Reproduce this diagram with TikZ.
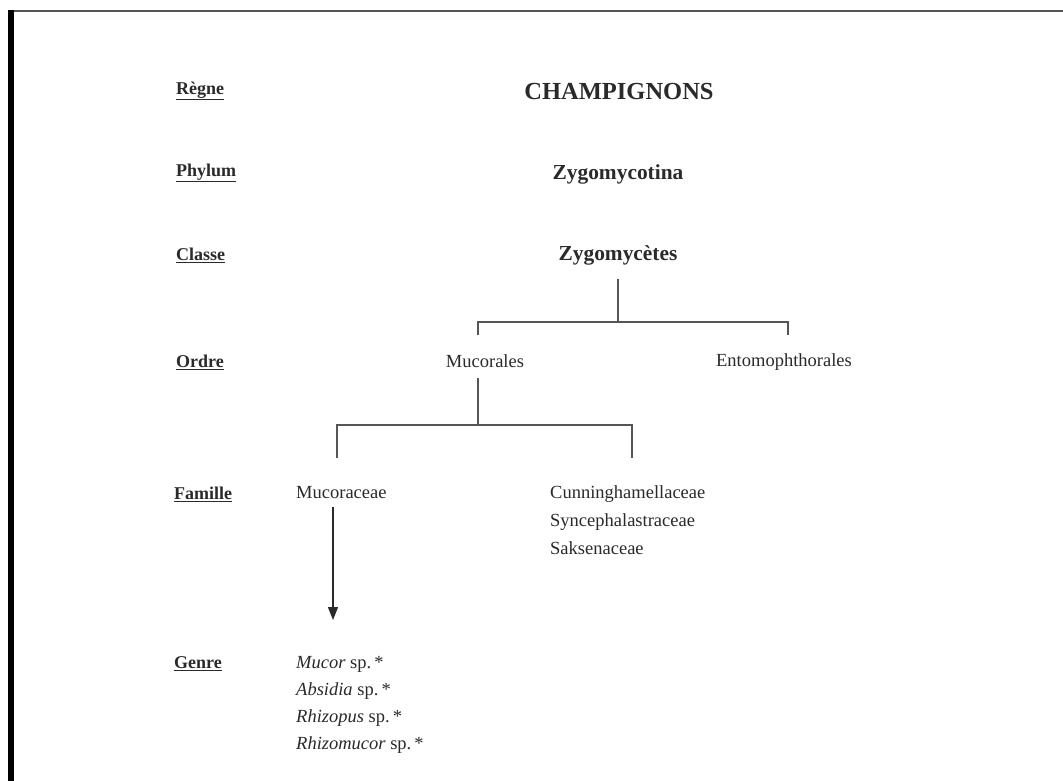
\documentclass[tikz,border=0pt]{standalone}
\usepackage{fontspec}
\setmainfont{Liberation Serif}
\usetikzlibrary{arrows.meta}
\definecolor{ink}{HTML}{2A2A2A}
\definecolor{linec}{HTML}{555555}
\begin{document}
\begin{tikzpicture}[x=1pt,y=-1pt,
  rank/.style={anchor=west,inner sep=0pt,font=\fontsize{18}{20}\selectfont\bfseries,text=ink},
  taxon/.style={inner sep=0pt,font=\fontsize{18.5}{21}\selectfont,text=ink},
  btaxon/.style={inner sep=0pt,font=\fontsize{21.4}{24}\selectfont\bfseries,text=ink},
  branch/.style={draw=linec,line width=1.1pt},
  arr/.style={draw=ink,line width=1.1pt,-{Triangle[length=13pt,width=10pt]}}]
\useasboundingbox (0,0) rectangle (1063,781);
\fill[white] (0,0) rectangle (1063,781);
% frame edges of the scan
\fill[black] (8,10) rectangle (14,781);
\draw[linec,line width=1.5pt] (14,11) -- (1063,11);
% rank labels
\node[rank] (regne) at (176,91) {\underline{Règne}};
\node[rank] (phylum) at (176,173) {\underline{Phylum}};
\node[rank] (classe) at (176,255) {\underline{Classe}};
\node[rank] (ordre) at (176,362) {\underline{Ordre}};
\node[rank] (famille) at (174,494) {\underline{Famille}};
\node[rank] (genre) at (174,664) {\underline{Genre}};
% taxa
\node[inner sep=0pt,font=\fontsize{24.5}{27}\selectfont\bfseries,text=ink] (champ) at (619,92) {CHAMPIGNONS};
\node[btaxon] (zygo) at (618,174) {Zygomycotina};
\node[btaxon] (zygc) at (618,255) {Zygomycètes};
\node[taxon] (mucorales) at (485,361) {Mucorales};
\node[taxon] (ento) at (784,362) {Entomophthorales};
\node[taxon,anchor=west] (mucoraceae) at (296,493) {Mucoraceae};
\node[taxon,anchor=north west,align=left,font=\fontsize{18.5}{28}\selectfont] (autres) at (550,485)
  {Cunninghamellaceae\\Syncephalastraceae\\Saksenaceae};
\node[taxon,anchor=north west,align=left,font=\fontsize{18.5}{27}\selectfont] (genres) at (296,656)
  {\textit{Mucor} sp.\,*\\\textit{Absidia} sp.\,*\\\textit{Rhizopus} sp.\,*\\\textit{Rhizomucor} sp.\,*};
% connectors
\coordinate (j1) at (618,322);
\coordinate (l1) at (478,322);
\coordinate (r1) at (788,322);
\draw[branch] (618,279) -- (j1);
\draw[branch] (478,335) -- (l1) -- (r1) -- (788,335);
\coordinate (j2) at (478,425);
\draw[branch] (478,378) -- (j2);
\draw[branch] (337,458) -- (337,425) -- (632,425) -- (632,458);
\draw[arr] (333,507) -- (333,620);
\end{tikzpicture}
\end{document}
